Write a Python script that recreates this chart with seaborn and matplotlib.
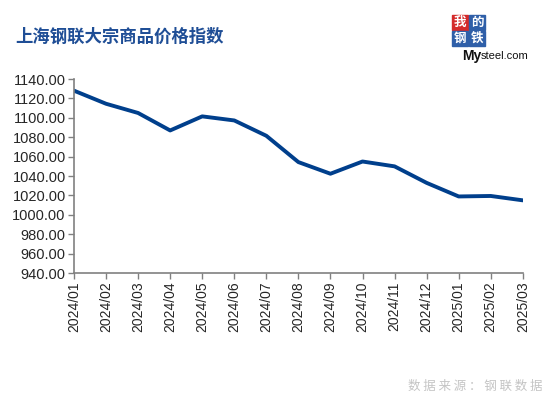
import seaborn as sns
import numpy as np
import pandas as pd
import matplotlib.pyplot as plt
from matplotlib.patches import Rectangle

months = ['2024/01', '2024/02', '2024/03', '2024/04', '2024/05', '2024/06',
          '2024/07', '2024/08', '2024/09', '2024/10', '2024/11', '2024/12',
          '2025/01', '2025/02', '2025/03']
index_vals = [1128.0, 1114.5, 1105.0, 1087.0, 1101.5, 1097.3, 1081.5, 1054.4,
              1042.4, 1055.0, 1050.0, 1033.0, 1019.0, 1019.5, 1015.0]
yticks = np.arange(940, 1141, 20)

sns.set_style('white')
plt.rcParams['font.family'] = ['Liberation Sans', 'Noto Sans CJK SC']

df = pd.DataFrame({'month': months, 'value': index_vals})
df['pos'] = np.arange(len(df))

fig = plt.figure(figsize=(5.48, 3.97), dpi=100)
ax = fig.add_axes([0.135, 0.312, 0.819, 0.489])
sns.lineplot(data=df, x='pos', y='value', ax=ax, color='#003f8c', linewidth=2.8)

ax.set_xlim(0, len(months) - 1)
ax.set_ylim(940, 1140)
ax.set_yticks(yticks)
ax.set_yticklabels(['%.2f' % v for v in yticks], fontsize=10.5)
ax.set_xticks(df['pos'])
ax.set_xticklabels(months, rotation=90, fontsize=10)
ax.set_xlabel('')
ax.set_ylabel('')
ax.tick_params(axis='both', which='major', direction='out', length=4,
               width=1, color='#808080', left=True, bottom=True, pad=2)
for s in ['top', 'right']:
    ax.spines[s].set_visible(False)
for s in ['left', 'bottom']:
    ax.spines[s].set_color('#808080')
    ax.spines[s].set_linewidth(1.2)

# title
fig.text(15 / 548, 1 - 37 / 397, '上海钢联大宗商品价格指数', fontsize=12.5,
         fontweight='bold', color='#1f4e96', va='center', ha='left',
         family=['Noto Sans CJK SC', 'DejaVu Sans'])

# logo
cells = [('我', '#d42a2a', 452, 15), ('的', '#2f5fa8', 469, 15),
         ('钢', '#2f5fa8', 452, 31), ('铁', '#2f5fa8', 469, 31)]
for ch, col, x0, y0 in cells:
    fig.patches.append(Rectangle((x0 / 548, 1 - (y0 + 15) / 397), 16 / 548, 15 / 397,
                                 transform=fig.transFigure, color=col, zorder=1))
    fig.text((x0 + 8) / 548, 1 - (y0 + 7.5) / 397, ch, fontsize=9, color='white',
             ha='center', va='center', fontweight='bold',
             family=['Noto Sans CJK SC', 'DejaVu Sans'])
fig.text(462 / 548, 1 - 56 / 397, 'My', fontsize=10, fontweight='bold', color='#111111',
         ha='left', va='center')
fig.text(481 / 548, 1 - 56 / 397, 'steel.com', fontsize=8, color='#111111',
         ha='left', va='center')

# source
fig.text(543 / 548, 1 - 386 / 397, '数 据 来 源 ： 钢 联 数 据', fontsize=9, color='#c4c4c4',
         ha='right', va='center', family=['Noto Sans CJK SC', 'DejaVu Sans'])

fig.savefig('out.png', dpi=100)
